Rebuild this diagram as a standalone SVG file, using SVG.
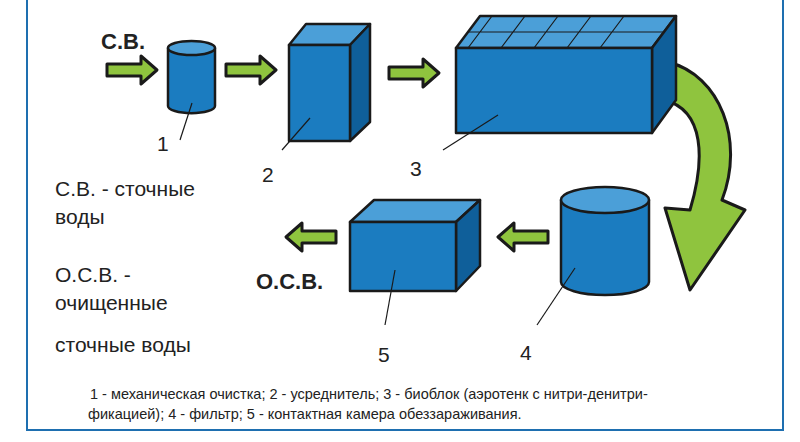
<svg xmlns="http://www.w3.org/2000/svg" width="800" height="442" viewBox="0 0 800 442">
<defs>
<style>
.b{fill:#1b7cc0;stroke:#1a1a1a;stroke-width:2.5;stroke-linejoin:round}
.t{fill:#4b9fd8;stroke:#1a1a1a;stroke-width:2.5;stroke-linejoin:round}
.s{fill:#0f5f9a;stroke:#1a1a1a;stroke-width:2.5;stroke-linejoin:round}
.a{fill:#8fc43e;stroke:#1a1a1a;stroke-width:3;stroke-linejoin:round}
.l{stroke:#1a1a1a;stroke-width:1.2}
text{font-family:"Liberation Sans",Arial,sans-serif;fill:#222}
.n{font-size:21px}
.c{font-size:14.5px}
</style>
</defs>
<rect x="0" y="0" width="800" height="442" fill="#fff"/>
<rect x="27" y="-2" width="756" height="432" fill="#fff" stroke="#1e6fb0" stroke-width="2"/>
<g id="connectors">
<path class="a" d="M107,64 h34 v-8 l16,14 l-16,14 v-8 h-34z"/>
<path class="a" d="M226,64 h34 v-8 l16,14 l-16,14 v-8 h-34z"/>
<path class="a" d="M389,67 h34 v-8 l16,14 l-16,14 v-8 h-34z"/>
<path class="a" d="M548,231 h-34 v-8 l-16,14 l16,14 v-8 h34z"/>
<path class="a" d="M336,231 h-34 v-8 l-16,14 l16,14 v-8 h34z"/>
<path class="a" d="M668,62 C720,75 745,140 722,200 L745,210 L690,290 L665,208 L690,210 C705,160 705,110 664,100 z"/>
</g>
<g id="n1">
<path class="b" d="M168,48 v58 a23,7 0 0 0 47,0 v-58z"/>
<ellipse class="t" cx="191.5" cy="48" rx="23.5" ry="7"/>
<line class="l" x1="192" y1="103" x2="180" y2="140"/>
<text class="n" x="157" y="151">1</text>
</g>
<g id="n2">
<path class="t" d="M289,45 l17,-21 h64 l-20,21z"/>
<path class="s" d="M350,45 l20,-21 v98 l-20,19z"/>
<rect class="b" x="289" y="45" width="61" height="96"/>
<line class="l" x1="310" y1="118" x2="282" y2="150"/>
<text class="n" x="262" y="182">2</text>
</g>
<g id="n3">
<path class="t" d="M456,48 l24,-32 h196 l-24,32z"/>
<path class="l" d="M468,32 h196 M492,16 l-24,32 M525,16 l-24,32 M558,16 l-24,32 M591,16 l-24,32 M624,16 l-24,32" fill="none" stroke-width="2.5"/>
<path class="s" d="M652,48 l24,-32 v84 l-24,33z"/>
<rect class="b" x="456" y="48" width="196" height="85"/>
<line class="l" x1="498" y1="115" x2="443" y2="150"/>
<text class="n" x="410" y="176">3</text>
</g>
<g id="n4">
<path class="b" d="M561,200 v82 a44,13 0 0 0 88,0 v-82z"/>
<ellipse class="t" cx="605" cy="200" rx="44" ry="13"/>
<line class="l" x1="575" y1="268" x2="537" y2="325"/>
<text class="n" x="520" y="360">4</text>
</g>
<g id="n5">
<path class="t" d="M350,222 l24,-22 h106 l-24,22z"/>
<path class="s" d="M456,222 l24,-22 v66 l-24,25z"/>
<rect class="b" x="350" y="222" width="106" height="69"/>
<line class="l" x1="395" y1="270" x2="385" y2="325"/>
<text class="n" x="378" y="362">5</text>
</g>
<g id="labels">
<text x="101" y="49" style="font-size:22px;font-weight:bold">С.В.</text>
<text x="256" y="289" style="font-size:22px;font-weight:bold">О.С.В.</text>
<text class="n" x="55" y="196">С.В. - сточные</text>
<text class="n" x="55" y="224">воды</text>
<text class="n" x="55" y="282">О.С.В. -</text>
<text class="n" x="55" y="310">очищенные</text>
<text class="n" x="55" y="352">сточные воды</text>
<text class="c" x="90" y="399">1 - механическая очистка; 2 - усреднитель; 3 - биоблок (аэротенк с нитри-денитри-</text>
<text class="c" x="88" y="419">фикацией); 4 - фильтр; 5 - контактная камера обеззараживания.</text>
</g>
</svg>
